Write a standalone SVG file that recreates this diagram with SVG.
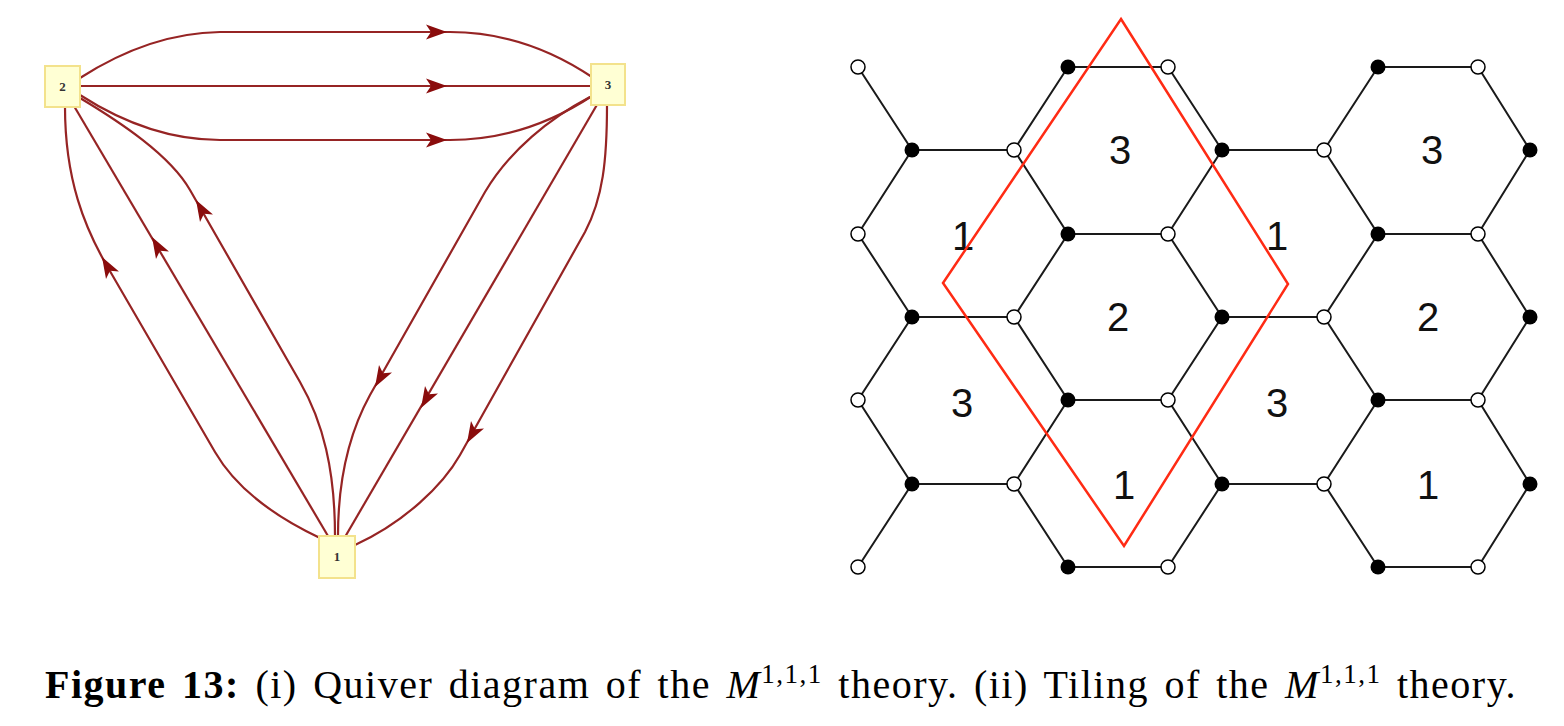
<svg xmlns="http://www.w3.org/2000/svg" width="1564" height="726" viewBox="0 0 1564 726">
<style>
.edge{fill:none;stroke:#962424;stroke-width:2.2}
.arr{fill:#8a0c0c}
.qnode rect{fill:#ffffd4;stroke:#f3e28c;stroke-width:2}
.qnode text{font-family:"Liberation Serif",serif;font-weight:bold;font-size:13px;fill:#333;text-anchor:middle}
.hex{fill:none;stroke:#1a1a1a;stroke-width:2}
.b{fill:#000}
.w{fill:#fff;stroke:#000;stroke-width:1.5}
.lab{font-family:"Liberation Sans",Arial,sans-serif;font-size:40px;fill:#111;text-anchor:middle}
.cap{font-family:"Liberation Serif","Times New Roman",serif;font-size:40px;letter-spacing:1.5px;word-spacing:4px;fill:#000}
</style>
<defs>
<path id="ah" d="M0,0 L-21,-7.5 L-16,0 L-21,7.5 z"/>
</defs>
<rect width="1564" height="726" fill="#fff"/>

<g id="connectors">
  <path class="edge" d="M80,78 Q150,33 220,32 L450,32 Q525,32 592,77"/>
  <path class="edge" d="M80,86 L591,86"/>
  <path class="edge" d="M80,95 Q150,140 220,140 L450,140 Q525,140 592,96"/>
  <use href="#ah" class="arr" transform="translate(447,32)"/>
  <use href="#ah" class="arr" transform="translate(447,86)"/>
  <use href="#ah" class="arr" transform="translate(447,140)"/>

  <path class="edge" d="M320,538 Q244,502 215,452 L107,266 C85,228 65,180 65,107"/>
  <path class="edge" d="M328,536 L74,106"/>
  <path class="edge" d="M335,536 C335,470 323,422 300,382 L190,190 C170,155 120,122 80,98"/>
  <use href="#ah" class="arr" transform="translate(102,257) rotate(-120)"/>
  <use href="#ah" class="arr" transform="translate(152,237) rotate(-120)"/>
  <use href="#ah" class="arr" transform="translate(196,200) rotate(-120)"/>

  <path class="edge" d="M590,97 C550,118 510,150 485,192 L370,395 C348,435 338,480 338,536"/>
  <path class="edge" d="M598,103 L345,537"/>
  <path class="edge" d="M607,105 C607,160 603,198 585,232 L460,455 C443,485 405,522 355,545"/>
  <use href="#ah" class="arr" transform="translate(375,387) rotate(120)"/>
  <use href="#ah" class="arr" transform="translate(421,408) rotate(120)"/>
  <use href="#ah" class="arr" transform="translate(467,443) rotate(120)"/>
</g>

<g id="node2" class="qnode"><rect x="45" y="66" width="35" height="41"/><text x="62.5" y="91">2</text></g>
<g id="node3" class="qnode"><rect x="591" y="64" width="34" height="41"/><text x="608" y="89">3</text></g>
<g id="node1" class="qnode"><rect x="319" y="536" width="36" height="42"/><text x="337" y="561">1</text></g>

<g id="tiling">
  <g class="hex">
    <polyline points="858,67 912,150 858,234 912,317 858,400 912,484 858,567"/>
    <polyline points="1068,67 1014,150 1068,234 1014,317 1068,400 1014,484 1068,567"/>
    <polyline points="1168,67 1222,150 1168,234 1222,317 1168,400 1222,484 1168,567"/>
    <polyline points="1378,67 1324,150 1378,234 1324,317 1378,400 1324,484 1378,567"/>
    <polyline points="1478,67 1530,150 1478,234 1530,317 1478,400 1530,484 1478,567"/>
    <path d="M1068,67H1168M1378,67H1478M912,150H1014M1222,150H1324M1068,234H1168M1378,234H1478M912,317H1014M1222,317H1324M1068,400H1168M1378,400H1478M912,484H1014M1222,484H1324M1068,567H1168M1378,567H1478"/>
  </g>
  <g>
    <circle class="w" cx="858" cy="67" r="7"/><circle class="w" cx="858" cy="234" r="7"/><circle class="w" cx="858" cy="400" r="7"/><circle class="w" cx="858" cy="567" r="7"/>
    <circle class="w" cx="1168" cy="67" r="7"/><circle class="w" cx="1168" cy="234" r="7"/><circle class="w" cx="1168" cy="400" r="7"/><circle class="w" cx="1168" cy="567" r="7"/>
    <circle class="w" cx="1478" cy="67" r="7"/><circle class="w" cx="1478" cy="234" r="7"/><circle class="w" cx="1478" cy="400" r="7"/><circle class="w" cx="1478" cy="567" r="7"/>
    <circle class="w" cx="1014" cy="150" r="7"/><circle class="w" cx="1014" cy="317" r="7"/><circle class="w" cx="1014" cy="484" r="7"/>
    <circle class="w" cx="1324" cy="150" r="7"/><circle class="w" cx="1324" cy="317" r="7"/><circle class="w" cx="1324" cy="484" r="7"/>
    <circle class="b" cx="912" cy="150" r="7.5"/><circle class="b" cx="912" cy="317" r="7.5"/><circle class="b" cx="912" cy="484" r="7.5"/>
    <circle class="b" cx="1222" cy="150" r="7.5"/><circle class="b" cx="1222" cy="317" r="7.5"/><circle class="b" cx="1222" cy="484" r="7.5"/>
    <circle class="b" cx="1530" cy="150" r="7.5"/><circle class="b" cx="1530" cy="317" r="7.5"/><circle class="b" cx="1530" cy="484" r="7.5"/>
    <circle class="b" cx="1068" cy="67" r="7.5"/><circle class="b" cx="1068" cy="234" r="7.5"/><circle class="b" cx="1068" cy="400" r="7.5"/><circle class="b" cx="1068" cy="567" r="7.5"/>
    <circle class="b" cx="1378" cy="67" r="7.5"/><circle class="b" cx="1378" cy="234" r="7.5"/><circle class="b" cx="1378" cy="400" r="7.5"/><circle class="b" cx="1378" cy="567" r="7.5"/>
  </g>
  <g>
    <text class="lab" x="1120" y="164">3</text>
    <text class="lab" x="963" y="250">1</text>
    <text class="lab" x="1277" y="250">1</text>
    <text class="lab" x="1118" y="331">2</text>
    <text class="lab" x="962" y="417">3</text>
    <text class="lab" x="1277" y="417">3</text>
    <text class="lab" x="1124" y="499">1</text>
    <text class="lab" x="1432" y="164">3</text>
    <text class="lab" x="1428" y="331">2</text>
    <text class="lab" x="1428" y="499">1</text>
  </g>
  <polygon points="1121,19 1288,284 1124,546 943,283" fill="none" stroke="#ff2b14" stroke-width="2.5"/>
</g>

<text class="cap" x="45" y="698"><tspan font-weight="bold">Figure 13:</tspan> (i) Quiver diagram of the <tspan font-style="italic">M</tspan><tspan dy="-15" font-size="27">1,1,1</tspan><tspan dy="15"> theory. (ii) Tiling of the </tspan><tspan font-style="italic">M</tspan><tspan dy="-15" font-size="27">1,1,1</tspan><tspan dy="15"> theory.</tspan></text>
</svg>
